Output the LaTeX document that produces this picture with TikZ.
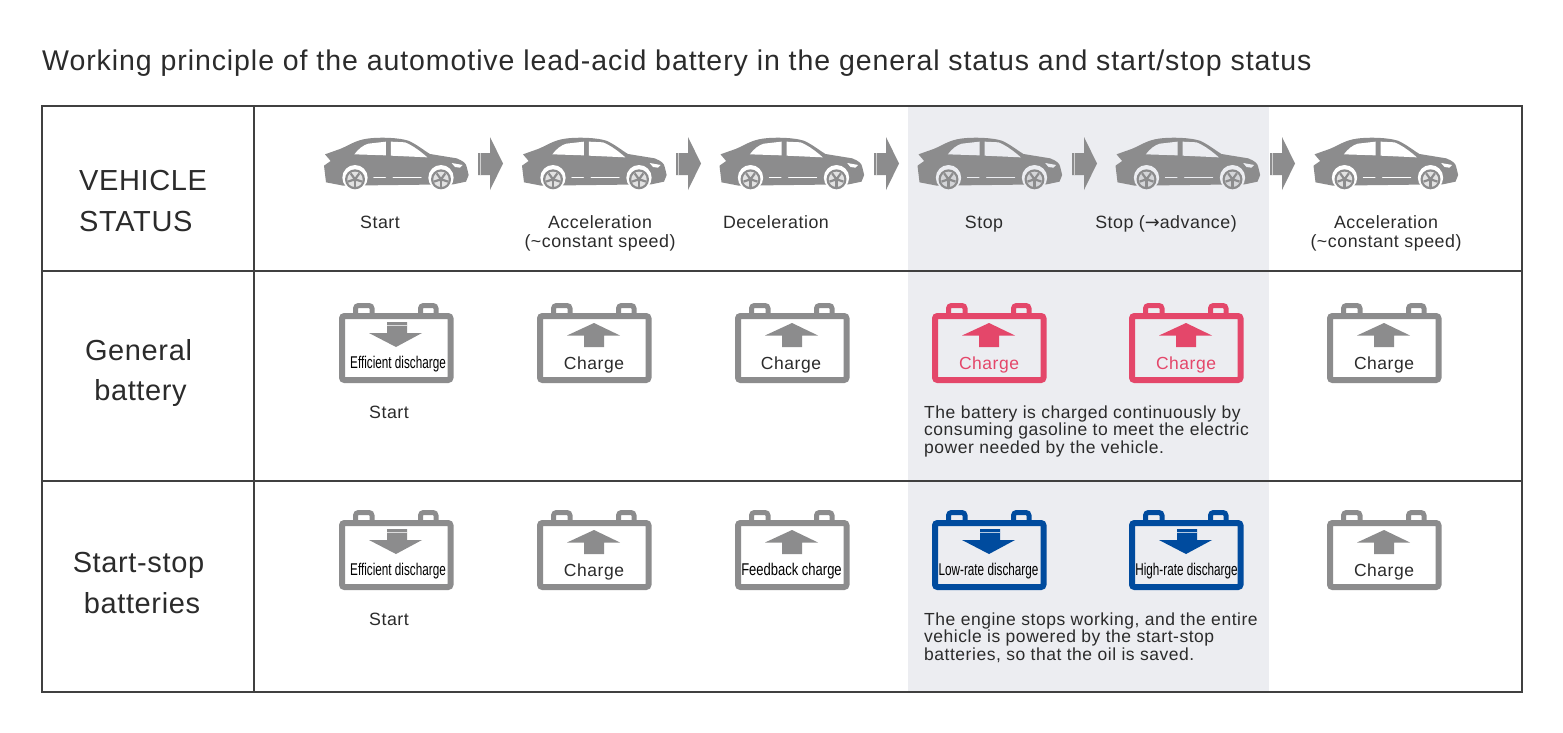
\documentclass[tikz,border=0pt]{standalone}
\usepackage{fontspec}
\setmainfont{Liberation Sans}
\newfontfamily\condfont[FakeStretch=0.69]{Liberation Sans}
\newfontfamily\condwide[FakeStretch=0.765]{Liberation Sans}
\newfontfamily\titlefont[LetterSpace=3.25]{Liberation Sans}
\newfontfamily\headfont[LetterSpace=2.2]{Liberation Sans}
\newfontfamily\labelfont[LetterSpace=3]{Liberation Sans}
\newfontfamily\arrowfont{DejaVu Sans}
\definecolor{ink}{HTML}{2B2B2B}
\definecolor{band}{HTML}{ECEDF1}
\definecolor{cargray}{HTML}{8C8C8D}
\definecolor{batred}{HTML}{E4476A}
\definecolor{batblue}{HTML}{004B9E}
\tikzset{
  rowhead/.style={font=\headfont\fontsize{29}{40.5}\selectfont,text=ink,inner sep=0pt},
  carlabel/.style={font=\labelfont\fontsize{17.8}{19.5}\selectfont,text=ink,inner sep=0pt,align=center},
  para/.style={font=\labelfont\fontsize{17.5}{17.6}\selectfont,text=ink,inner sep=0pt,align=left,anchor=north west},
  battext/.style={font=\labelfont\fontsize{17.5}{20}\selectfont,inner sep=0pt},
  condtext/.style={font=\condfont\fontsize{17}{20}\selectfont,text=black,inner sep=0pt},
  grid/.style={draw=ink!90,line width=1.8pt},
}
% car: #1 x, #2 y of the zoom origin, #3 background colour
\newcommand\carshape[3]{%
\begin{scope}[shift={(#1,#2)},x=0.3333pt,y=-0.3333pt]
  \fill[cargray] (45,88) -- (90,72) .. controls (115,62) and (130,50) .. (160,43)
    .. controls (190,36) and (260,36) .. (295,47) .. controls (320,58) and (340,75) .. (360,87)
    -- (440,100) .. controls (460,108) and (468,115) .. (470,125) -- (476,150) -- (468,170)
    -- (430,178) -- (100,182) -- (48,172) -- (42,122) -- (62,108) -- cycle;
  \fill[#3] (133,88) .. controls (145,72) and (160,60) .. (175,56) -- (228,50) -- (228,91) -- cycle;
  \fill[#3] (243,50) -- (285,52) .. controls (310,62) and (335,82) .. (352,97) -- (243,92) -- cycle;
  \fill[#3] (425,114) -- (458,120) -- (450,128) -- (435,126) -- cycle;
  \draw[#3,line width=1.5pt,line cap=round] (192,158) -- (226,158) (250,158) -- (333,158);
  \foreach \cx in {135,393} {
    \fill[#3] (\cx,158) circle[radius=38];
    \fill[cargray] (\cx,163) circle[radius=30];
    \fill[#3!75!cargray] (\cx,163) circle[radius=23];
    \fill[cargray] (\cx,163) circle[radius=7];
    \foreach \a in {18,90,162,234,306}
      \draw[cargray,line width=2.2pt] (\cx,163) -- ++(\a:22);
  }
\end{scope}}
\newcommand\stepsign[1]{%
  \fill[cargray] (#1,153) -- (#1+12,153) -- (#1+12,137) -- (#1+25,163.5) -- (#1+12,190) -- (#1+12,175) -- (#1,175) -- cycle;
  \draw[white,line width=.6pt,opacity=.6] (#1+2,153) -- (#1+2,175);
}
% battery: #1 left, #2 body top, #3 colour, #4 up or down
\newcommand\batteryicon[4]{%
\begin{scope}[shift={(#1,#2)}]
  \draw[#3,line width=5pt,rounded corners=3pt] (16.5,2) -- (16.5,-7.5) -- (33,-7.5) -- (33,2);
  \draw[#3,line width=5pt,rounded corners=3pt] (81.5,2) -- (81.5,-7.5) -- (97,-7.5) -- (97,2);
  \draw[#3,line width=6pt,rounded corners=2.5pt] (3,3) rectangle (111.5,67);
  \ifnum#4=0
    \fill[#3] (48,9) -- (68,9) -- (68,20) -- (83,20) -- (57,34) -- (30,20) -- (48,20) -- cycle;
    \draw[white,line width=.6pt,opacity=.7] (48,12) -- (68,12);
  \else
    \fill[#3] (57,10) -- (83,22.5) -- (67,22.5) -- (67,34) -- (47,34) -- (47,22.5) -- (30,22.5) -- cycle;
  \fi
\end{scope}}
\begin{document}
\begin{tikzpicture}[x=1pt,y=-1pt]
\useasboundingbox (0,0) rectangle (1563,732);
\fill[white] (0,0) rectangle (1563,732);
\fill[band] (908,106) rectangle (1269,692);
\node[anchor=base west,inner sep=0pt,text=ink,font=\titlefont\fontsize{28.5}{34}\selectfont] (title) at (42,70)
  {Working principle of the automotive lead-acid battery in the general status and start/stop status};
\draw[grid] (42,106) rectangle (1522,692);
\draw[grid] (254,106) -- (254,692);
\draw[grid] (42,271) -- (1522,271);
\draw[grid] (42,481) -- (1522,481);
\node[rowhead,align=left,anchor=west] (hvehicle) at (79,201) {VEHICLE\\STATUS};
\node[rowhead,align=center] (hgeneral) at (138.5,373) {General\\\hspace*{4pt}battery};
\node[rowhead,align=center] (hstart) at (138.5,583) {Start-stop\\\hspace*{7pt}batteries};
% cars
\carshape{310}{125}{white}
\carshape{508}{125}{white}
\carshape{705.5}{125}{white}
\carshape{903.5}{125}{band}
\carshape{1101.5}{125}{band}
\carshape{1299.5}{125}{white}
\stepsign{478}\stepsign{676}\stepsign{874}\stepsign{1072}\stepsign{1270}
\node[carlabel] (l1) at (380,222) {Start};
\node[carlabel,anchor=north] (l2) at (600,215) {Acceleration\\(\textasciitilde constant speed)};
\node[carlabel] (l3) at (776,222) {Deceleration};
\node[carlabel] (l4) at (984,224) {Stop};
\node[carlabel] (l5) at (1166,223.5) {Stop ({\arrowfont →}advance)};
\node[carlabel,anchor=north] (l6) at (1386,215) {Acceleration\\(\textasciitilde constant speed)};
% general batteries
\batteryicon{339}{313}{cargray}{0}
\batteryicon{537}{313}{cargray}{1}
\batteryicon{735}{313}{cargray}{1}
\batteryicon{932}{313}{batred}{1}
\batteryicon{1129}{313}{batred}{1}
\batteryicon{1327}{313}{cargray}{1}
\node[condtext] (g1) at (398,364) {Efficient discharge};
\node[battext,text=ink] (g2) at (594,364.5) {Charge};
\node[battext,text=ink] (g3) at (791,364.5) {Charge};
\node[battext,text=batred] (g4) at (989,364.5) {Charge};
\node[battext,text=batred] (g5) at (1186,364.5) {Charge};
\node[battext,text=ink] (g6) at (1384,364.5) {Charge};
\node[carlabel] (gs) at (389,412) {Start};
\node[para] (gp) at (924,405.5) {The battery is charged continuously by\\consuming gasoline to meet the electric\\power needed by the vehicle.};
% start-stop batteries
\batteryicon{339}{520}{cargray}{0}
\batteryicon{537}{520}{cargray}{1}
\batteryicon{735}{520}{cargray}{1}
\batteryicon{932}{520}{batblue}{0}
\batteryicon{1129}{520}{batblue}{0}
\batteryicon{1327}{520}{cargray}{1}
\node[condtext] (s1) at (398,571) {Efficient discharge};
\node[battext,text=ink] (s2) at (594,571.5) {Charge};
\node[condtext,font=\condwide\fontsize{17}{20}\selectfont] (s3) at (791.5,571) {Feedback charge};
\node[condtext] (s4) at (988.5,571) {Low-rate discharge};
\node[condtext] (s5) at (1186.5,571) {High-rate discharge};
\node[battext,text=ink] (s6) at (1384,571.5) {Charge};
\node[carlabel] (ss) at (389,619) {Start};
\node[para] (sp) at (924,612.5) {The engine stops working, and the entire\\vehicle is powered by the start-stop\\batteries, so that the oil is saved.};
\end{tikzpicture}
\end{document}
